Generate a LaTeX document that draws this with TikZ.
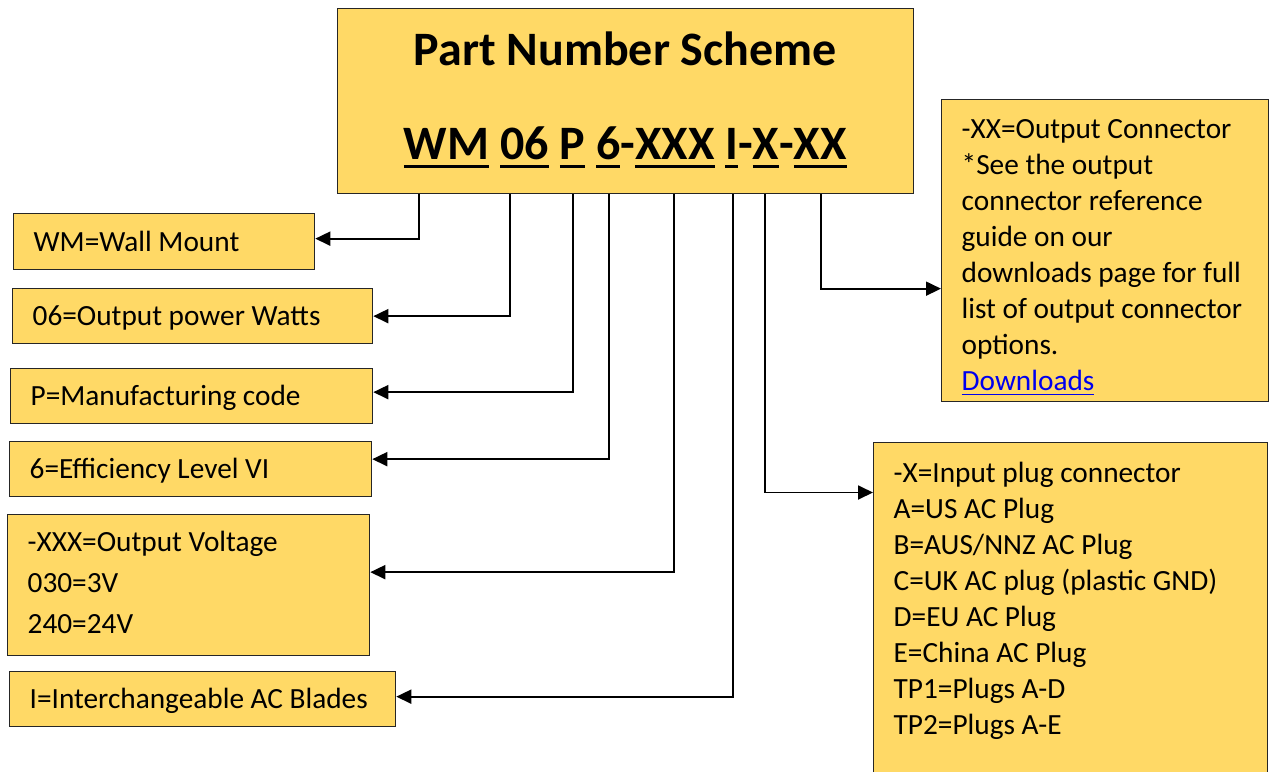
\documentclass[tikz,border=0pt]{standalone}
\usepackage{fontspec}
\setmainfont{Carlito}
\usetikzlibrary{arrows.meta}
\definecolor{boxfill}{RGB}{255,217,102}
\definecolor{linkblue}{RGB}{0,0,238}
\newcommand\ulseg[1]{\leavevmode\setbox0\hbox{#1}\rlap{\rule[-8.4pt]{\wd0}{3.4pt}}\box0\relax}
\newcommand\ullink[1]{\leavevmode\setbox0\hbox{#1}\rlap{\rule[-5.2pt]{\wd0}{1.8pt}}\box0\relax}
\newcommand\oneline[2]{\parbox[b]{#1}{#2}}
\begin{document}
\begin{tikzpicture}[x=1pt,y=-1pt,
  box/.style={draw=black!85, line width=1.3pt, fill=boxfill, rectangle, anchor=north west,
    inner ysep=0pt, inner xsep=20pt, font=\fontsize{29.3}{36}\selectfont},
  onebox/.style={box, text height=26pt, text depth=7pt},
  conn/.style={line width=1.8pt, -{Triangle[length=15pt,width=14pt]}}]
\useasboundingbox (0,0) rectangle (1271,771);

% title
\node[box, inner xsep=0pt] (title) at (337,8)
  {\parbox[c][185pt][t]{575.5pt}{\centering\fontsize{48}{58}\selectfont\bfseries
   \vspace*{16.4pt}\strut Part Number Scheme\\[36pt]
   \leavevmode\ulseg{WM} \ulseg{06} \ulseg{P} \ulseg{6}-\ulseg{XXX} \ulseg{I}-\ulseg{X}-\ulseg{XX}\par}};

% left boxes
\node[onebox, minimum width=301pt, minimum height=56pt] (wm) at (13,213) {\oneline{261pt}{WM=Wall Mount}};
\node[onebox, minimum width=360pt, minimum height=55pt] (pw) at (12,288) {\oneline{320pt}{06=Output power Watts}};
\node[onebox, minimum width=362pt, minimum height=55pt] (mc) at (10,368) {\oneline{322pt}{P=Manufacturing code}};
\node[onebox, minimum width=362pt, minimum height=55pt] (ef) at (9,441) {\oneline{322pt}{6=Efficiency Level VI}};
\node[box] (ov) at (7,514)
  {\parbox[c][141pt][t]{322pt}{\fontsize{29.3}{41}\selectfont\vspace*{8.3pt}\strut
   -XXX=Output Voltage\\030=3V\\240=24V}};
\node[onebox, minimum width=386pt, minimum height=55pt] (ia) at (9,671) {\oneline{346pt}{I=Interchangeable AC Blades}};

% right boxes
\node[box] (oc) at (941,99)
  {\parbox[c][302pt][t]{287pt}{\vspace*{13.3pt}\strut
   -XX=Output Connector\\{*}See the output\\connector reference\\guide on our\\downloads page for full\\list of output connector\\options.\\
   {\color{linkblue}\ullink{Downloads}}}};
\node[box] (ip) at (873,442)
  {\parbox[c][335pt][t]{354pt}{\vspace*{14.3pt}\strut
   -X=Input plug connector\\A=US AC Plug\\B=AUS/NNZ AC Plug\\C=UK AC plug (plastic GND)\\D=EU AC Plug\\E=China AC Plug\\TP1=Plugs A-D\\TP2=Plugs A-E}};

% connectors
\draw[conn] ([xshift=81.7pt]title.south west) |- ([yshift=3pt]wm.east);
\draw[conn] ([xshift=173pt]title.south west) |- (pw.east);
\draw[conn] ([xshift=235.7pt]title.south west) |- ([yshift=4pt]mc.east);
\draw[conn] ([xshift=271.7pt]title.south west) |- ([yshift=10pt]ef.east);
\draw[conn] ([xshift=337pt]title.south west) |- ([yshift=13pt]ov.east);
\draw[conn] ([xshift=395.7pt]title.south west) |- ([yshift=2.5pt]ia.east);
\draw[conn] ([xshift=428.3pt]title.south west) |- ([yshift=-50.5pt]ip.north west);
\draw[conn] ([xshift=484.3pt]title.south west) |- ([yshift=-38pt]oc.west);
\end{tikzpicture}
\end{document}
